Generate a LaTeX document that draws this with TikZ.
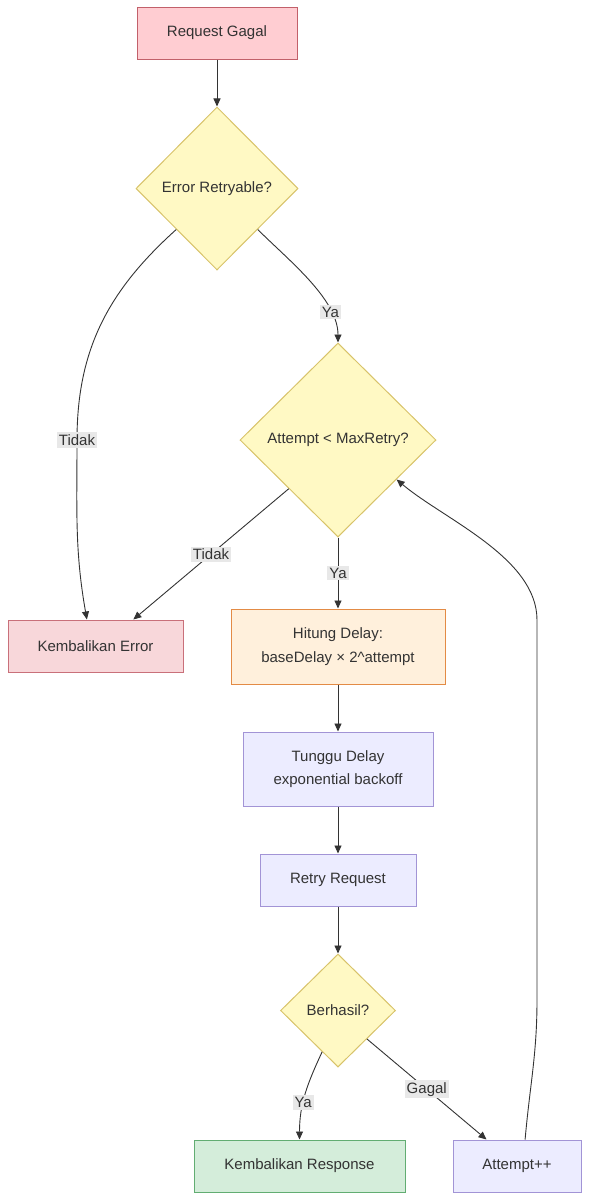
\documentclass[tikz,border=0pt]{standalone}
\usepackage{fontspec}
\setmainfont{Liberation Sans}
\usetikzlibrary{arrows.meta, shapes.geometric}

\definecolor{txtgray}{HTML}{333333}
\definecolor{pinkfill}{HTML}{FFCDD2}
\definecolor{pinkline}{HTML}{C2606A}
\definecolor{errfill}{HTML}{F8D7DA}
\definecolor{errline}{HTML}{C9707A}
\definecolor{yelfill}{HTML}{FFF9C4}
\definecolor{yelline}{HTML}{D8C36A}
\definecolor{orgfill}{HTML}{FFF0DC}
\definecolor{orgline}{HTML}{E38B45}
\definecolor{purfill}{HTML}{ECECFF}
\definecolor{purline}{HTML}{A294D6}
\definecolor{grnfill}{HTML}{D4EDDA}
\definecolor{grnline}{HTML}{62AD72}
\definecolor{lblfill}{HTML}{E8E8E8}

\begin{document}
\begin{tikzpicture}[x=1pt, y=1pt,
    every node/.style={font=\fontsize{15}{23.5}\selectfont, text=txtgray, align=center},
    box/.style={rectangle, draw, line width=1pt, inner sep=0pt},
    decision/.style={diamond, draw=yelline, fill=yelfill, line width=1pt, inner sep=0pt},
    lbl/.style={fill=lblfill, inner sep=2pt},
    arr/.style={draw=txtgray, line width=0.9pt, -{Triangle[length=8pt, width=7pt]}}]
    \useasboundingbox (0,0) rectangle (589,-1200);

    \node[box, draw=pinkline, fill=pinkfill, minimum width=160, minimum height=52] (rg) at (217,-33) {Request Gagal};
    \node[decision, minimum width=162, minimum height=163] (er) at (217,-188.5) {Error Retryable?};
    \node[decision, minimum width=196, minimum height=194] (amax) at (338,-440) {Attempt < MaxRetry?};
    \node[box, draw=errline, fill=errfill, minimum width=175, minimum height=52] (kerr) at (95.5,-646) {Kembalikan Error};
    \node[box, draw=orgline, fill=orgfill, minimum width=214, minimum height=75] (hd) at (338,-646.5) {Hitung Delay:\\baseDelay × 2\textasciicircum attempt};
    \node[box, draw=purline, fill=purfill, minimum width=190, minimum height=74] (tg) at (338,-769) {Tunggu Delay\\exponential backoff};
    \node[box, draw=purline, fill=purfill, minimum width=156, minimum height=52] (rr) at (338,-880) {Retry Request};
    \node[decision, minimum width=115, minimum height=113] (ber) at (338,-1010.5) {Berhasil?};
    \node[box, draw=grnline, fill=grnfill, minimum width=211, minimum height=52] (kr) at (299.5,-1166) {Kembalikan Response};
    \node[box, draw=purline, fill=purfill, minimum width=128, minimum height=52] (att) at (517,-1166) {Attempt++};

    \draw[arr] (rg) -- (er);
    \draw[arr] (er.south west) to[out=-138,in=90] (77,-440) node[lbl] {Tidak} to[out=-90,in=100] (kerr.108);
    \draw[arr] (er.south east) to[out=-45,in=90,looseness=0.8] node[lbl, pos=0.76] {Ya} (amax.north);
    \draw[arr] (amax.south west) -- node[lbl] {Tidak} (kerr.35);
    \draw[arr] (amax) -- node[lbl] {Ya} (hd);
    \draw[arr] (hd) -- (tg);
    \draw[arr] (tg) -- (rr);
    \draw[arr] (rr) -- (ber);
    \draw[arr] (ber.-111) to[out=-115,in=90] node[lbl, pos=0.6] {Ya} (kr.north);
    \draw[arr] (ber.south east) -- node[lbl] {Gagal} (att.139);
    \draw[arr] (att.73) to[out=85,in=-90] (537,-1000) -- (537,-620) to[out=90,in=-40,looseness=0.8] (amax.-34);
\end{tikzpicture}
\end{document}
